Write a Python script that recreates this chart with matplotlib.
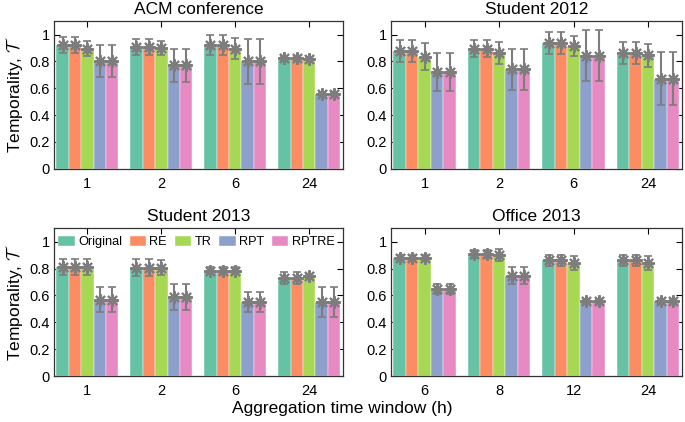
import numpy as np
import matplotlib
matplotlib.use('Agg')
import matplotlib.pyplot as plt

plt.rcParams['font.family'] = ['Liberation Sans', 'DejaVu Sans']
plt.rcParams['mathtext.fontset'] = 'cm'

seriesNames = ['Original', 'RE', 'TR', 'RPT', 'RPTRE']
seriesColors = ['#66c2a5', '#fc8d62', '#a6d854', '#8da0cb', '#e78ac3']

# rows = aggregation windows, columns = series (Original, RE, TR, RPT, RPTRE)
acmWindows = ['1', '2', '6', '24']
acmMean = [[0.920, 0.920, 0.895, 0.805, 0.805],
           [0.905, 0.905, 0.900, 0.770, 0.770],
           [0.925, 0.925, 0.895, 0.800, 0.800],
           [0.822, 0.822, 0.815, 0.560, 0.560]]
acmErr = [[0.060, 0.060, 0.055, 0.120, 0.120],
          [0.060, 0.060, 0.050, 0.125, 0.125],
          [0.075, 0.075, 0.078, 0.165, 0.165],
          [0.008, 0.008, 0.008, 0.008, 0.008]]

student12Windows = ['1', '2', '6', '24']
student12Mean = [[0.878, 0.878, 0.835, 0.720, 0.720],
                 [0.895, 0.895, 0.862, 0.740, 0.740],
                 [0.936, 0.936, 0.915, 0.843, 0.843],
                 [0.862, 0.862, 0.845, 0.670, 0.670]]
student12Err = [[0.080, 0.080, 0.100, 0.140, 0.140],
                [0.065, 0.065, 0.085, 0.150, 0.150],
                [0.080, 0.080, 0.075, 0.187, 0.187],
                [0.082, 0.082, 0.088, 0.197, 0.197]]

student13Windows = ['1', '2', '6', '24']
student13Mean = [[0.810, 0.810, 0.810, 0.567, 0.567],
                 [0.808, 0.808, 0.808, 0.588, 0.588],
                 [0.784, 0.784, 0.784, 0.551, 0.551],
                 [0.732, 0.732, 0.743, 0.551, 0.551]]
student13Err = [[0.060, 0.060, 0.060, 0.093, 0.093],
                [0.060, 0.060, 0.053, 0.095, 0.095],
                [0.027, 0.027, 0.027, 0.078, 0.078],
                [0.046, 0.046, 0.012, 0.115, 0.115]]

officeWindows = ['6', '8', '12', '24']
officeMean = [[0.881, 0.881, 0.881, 0.648, 0.648],
              [0.906, 0.906, 0.900, 0.747, 0.747],
              [0.862, 0.862, 0.843, 0.558, 0.558],
              [0.862, 0.862, 0.843, 0.558, 0.558]]
officeErr = [[0.020, 0.020, 0.018, 0.040, 0.040],
             [0.030, 0.030, 0.045, 0.065, 0.065],
             [0.040, 0.040, 0.050, 0.015, 0.015],
             [0.040, 0.040, 0.050, 0.015, 0.015]]

panels = [('ACM conference', acmWindows, acmMean, acmErr),
          ('Student 2012', student12Windows, student12Mean, student12Err),
          ('Student 2013', student13Windows, student13Mean, student13Err),
          ('Office 2013', officeWindows, officeMean, officeErr)]

axesRects = [[0.079, 0.600, 0.422, 0.350],
             [0.571, 0.600, 0.425, 0.350],
             [0.079, 0.109, 0.422, 0.350],
             [0.571, 0.109, 0.425, 0.350]]

barWidth = 0.168
errColor = '#7d7d7d'


def draw_panel(ax, title, windows, mean, err):
    mean = np.array(mean)
    err = np.array(err)
    x = np.arange(len(windows))
    for i, name in enumerate(seriesNames):
        pos = x + (i - 2) * barWidth
        ax.bar(pos, mean[:, i], width=barWidth, color=seriesColors[i],
               edgecolor='white', linewidth=0.3, label=name, zorder=2)
        ax.errorbar(pos, mean[:, i], yerr=err[:, i], fmt='none', ecolor=errColor,
                    elinewidth=1.5, capsize=3, capthick=1.2, zorder=3)
        ax.plot(pos, mean[:, i], linestyle='none', marker=(8, 2, 0), markersize=9,
                markeredgewidth=1.5, color=errColor, zorder=4)
    ax.set_xlim(-0.45, 3.46)
    ax.set_ylim(0, 1.1)
    ax.set_xticks(x)
    ax.set_xticklabels(windows)
    ax.set_yticks([0, 0.2, 0.4, 0.6, 0.8, 1.0])
    ax.set_yticklabels(['0', '0.2', '0.4', '0.6', '0.8', '1'])
    ax.tick_params(direction='in', top=True, right=True, labelsize=10.5, length=4,
                   width=0.8)
    ax.tick_params(axis='y', pad=3)
    ax.tick_params(axis='x', pad=6)
    for s in ax.spines.values():
        s.set_linewidth(0.9)
        s.set_color('#333333')
    ax.set_title(title, fontsize=12.5, pad=5)


fig = plt.figure(figsize=(6.85, 4.22), dpi=100)
axes = []
for rect, (title, windows, mean, err) in zip(axesRects, panels):
    ax = fig.add_axes(rect)
    draw_panel(ax, title, windows, mean, err)
    axes.append(ax)

for ax in (axes[0], axes[2]):
    ax.set_ylabel(r'Temporality, $\mathcal{T}$', fontsize=12.5, labelpad=3)

axes[2].legend(loc='center left', bbox_to_anchor=(0.005, 0.905), ncol=5, frameon=False,
               fontsize=9.2, handlelength=1.3, handleheight=0.75, handletextpad=0.25,
               columnspacing=0.6, borderaxespad=0.0, borderpad=0.2)

fig.text(0.5, 0.015, 'Aggregation time window (h)', ha='center', va='bottom', fontsize=12.5)

fig.savefig('out.png', dpi=100)
